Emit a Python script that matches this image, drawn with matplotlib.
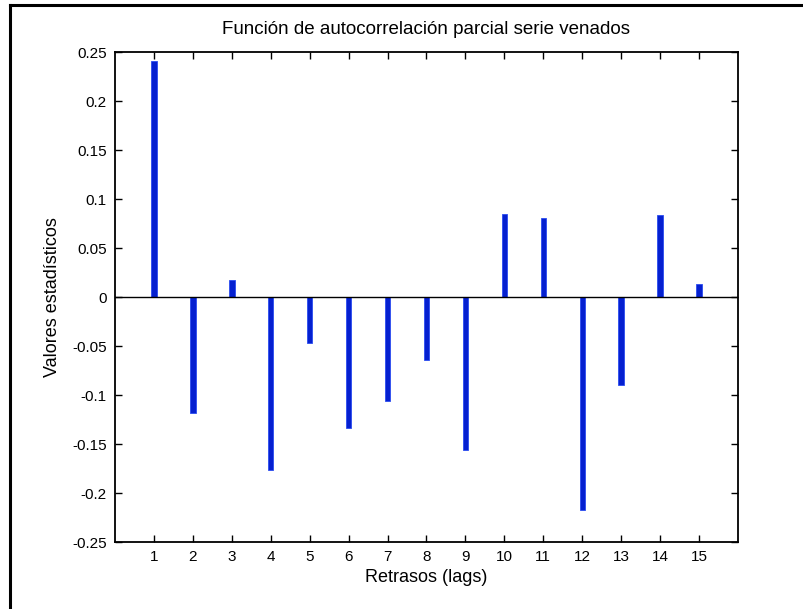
import matplotlib
matplotlib.use("Agg")
import matplotlib.pyplot as plt
from matplotlib.lines import Line2D

lags = list(range(1, 16))
pacf = [0.241, -0.118, 0.017, -0.177, -0.047, -0.134, -0.106, -0.064,
        -0.156, 0.085, 0.081, -0.217, -0.090, 0.084, 0.013]
yticks = [-0.25, -0.2, -0.15, -0.1, -0.05, 0, 0.05, 0.1, 0.15, 0.2, 0.25]
ytick_labels = ["-0.25", "-0.2", "-0.15", "-0.1", "-0.05", "0", "0.05", "0.1", "0.15", "0.2", "0.25"]

plt.rcParams['font.family'] = ['Liberation Sans', 'DejaVu Sans']

fig = plt.figure(figsize=(8.04, 6.09), dpi=100)
ax = fig.add_axes([0.1430, 0.1100, 0.7749, 0.8046])

ax.bar(lags, pacf, width=0.14, color='#0520d0', edgecolor='#2a4cf0', linewidth=0.6, zorder=2)
ax.axhline(0, color='black', linewidth=1.0, zorder=3)

ax.set_xlim(0, 16)
ax.set_ylim(-0.25, 0.25)
ax.set_xticks(lags)
ax.set_xticklabels([str(l) for l in lags])
ax.set_yticks(yticks)
ax.set_yticklabels(ytick_labels)
ax.tick_params(direction='in', top=True, right=True, length=5, width=1, labelsize=11, pad=6)
for s in ax.spines.values():
    s.set_linewidth(1.3)

ax.set_title("Función de autocorrelación parcial serie venados", fontsize=13.5, pad=13)
ax.set_xlabel("Retrasos (lags)", fontsize=13, labelpad=3)
ax.set_ylabel("Valores estadísticos", fontsize=13, labelpad=8)

# outer frame (top and left edges)
fig.add_artist(Line2D([10/804, 1.0], [1 - 5/609, 1 - 5/609], transform=fig.transFigure, color='black', linewidth=2.2))
fig.add_artist(Line2D([10/804, 10/804], [0.0, 1 - 5/609], transform=fig.transFigure, color='black', linewidth=2.2))

fig.savefig("out.png", dpi=100)
